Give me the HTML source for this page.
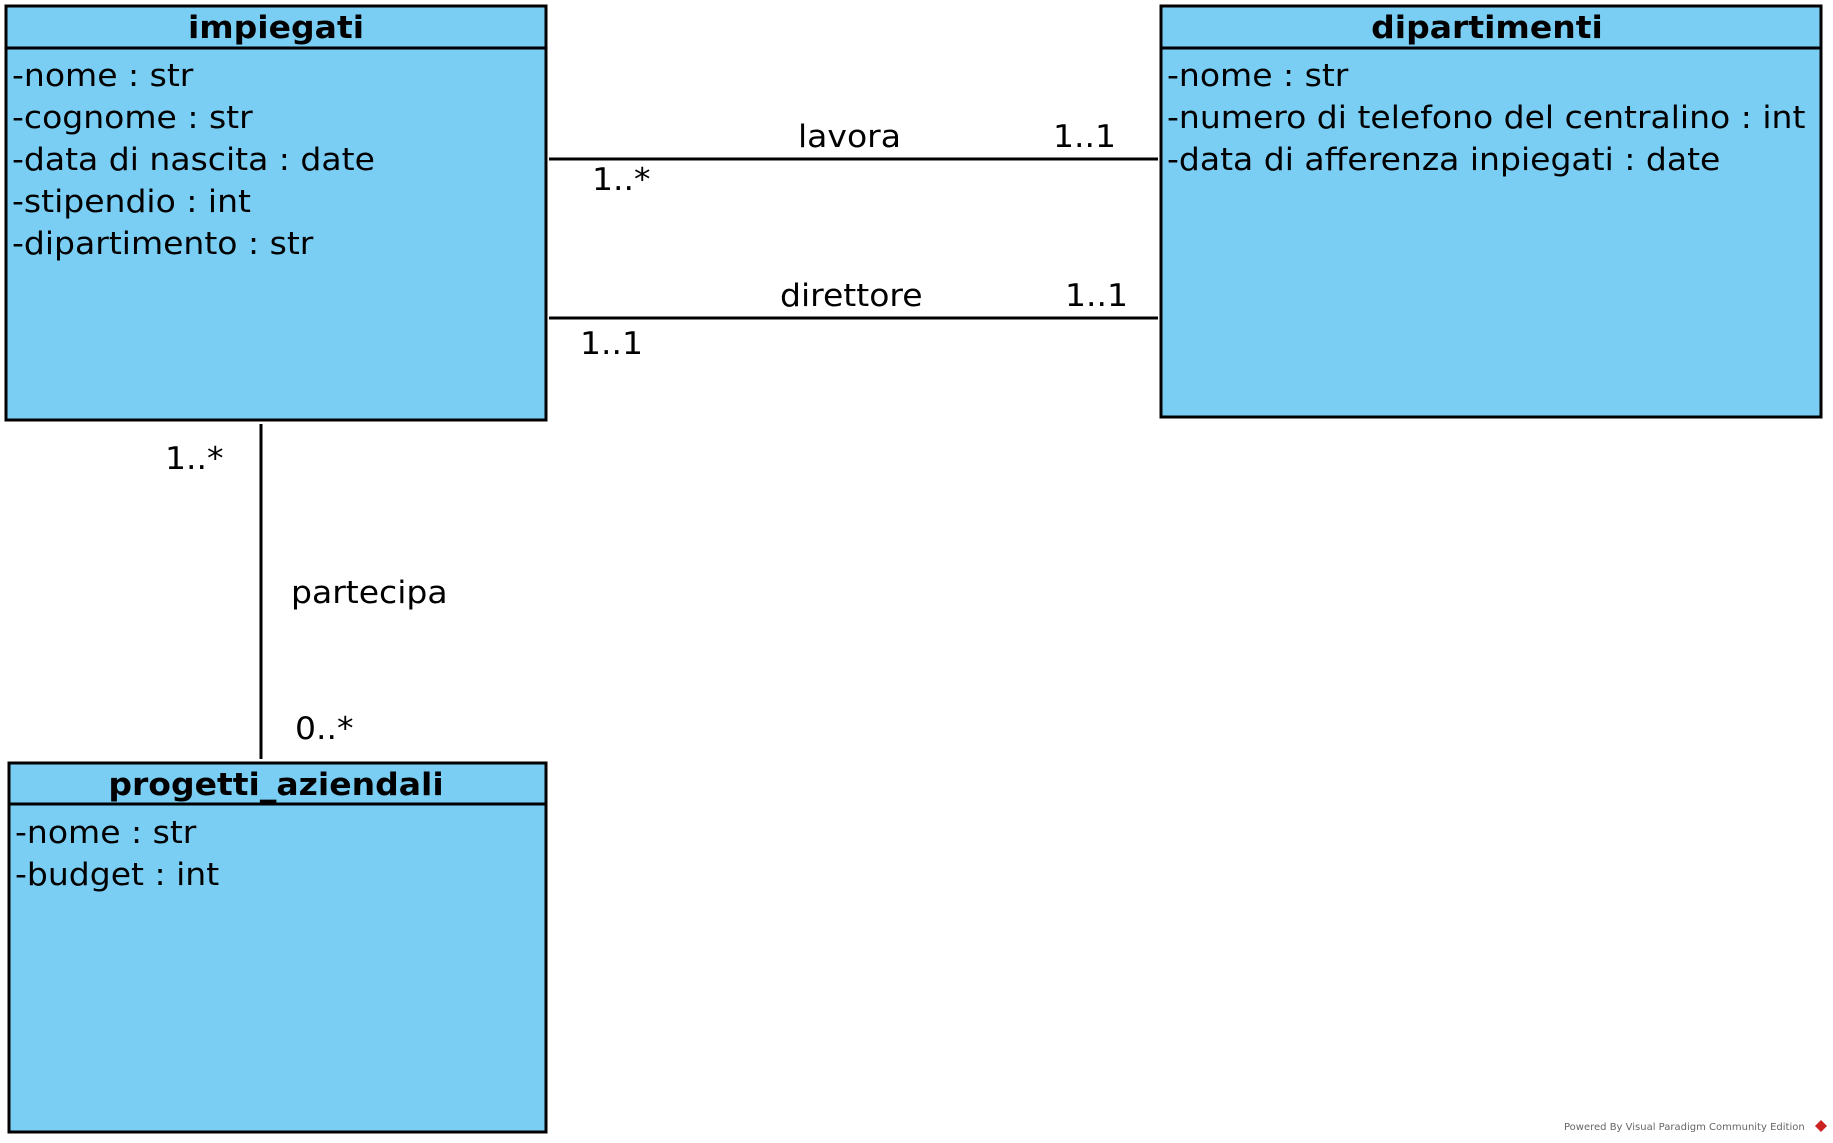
<!DOCTYPE html>
<html><head><meta charset="utf-8"><style>
html,body{margin:0;padding:0;background:#fff;width:1833px;height:1143px;overflow:hidden}
text{font-family:"DejaVu Sans","Liberation Sans",sans-serif;font-size:31px;fill:#000}
.b{font-weight:bold}
</style></head><body>
<svg width="1833" height="1143" viewBox="0 0 1833 1143" xmlns="http://www.w3.org/2000/svg">
<g stroke="#000" stroke-width="3" fill="#7ACEF4">
<rect x="6" y="6" width="540" height="414"/>
<line x1="6" y1="48" x2="546" y2="48"/>
<rect x="1161" y="6" width="660" height="411"/>
<line x1="1161" y1="48" x2="1821" y2="48"/>
<rect x="9" y="763" width="537" height="369"/>
<line x1="9" y1="804" x2="546" y2="804"/>
<line x1="549" y1="159" x2="1158" y2="159"/>
<line x1="549" y1="318" x2="1158" y2="318"/>
<line x1="261" y1="424" x2="261" y2="759"/>
</g>
<text class="b" transform="translate(276,38) scale(1.066,1)" text-anchor="middle">impiegati</text>
<text transform="translate(12,86) scale(1.066,1)">-nome : str</text>
<text transform="translate(12,128) scale(1.066,1)">-cognome : str</text>
<text transform="translate(12,170) scale(1.066,1)">-data di nascita : date</text>
<text transform="translate(12,212) scale(1.066,1)">-stipendio : int</text>
<text transform="translate(12,254) scale(1.066,1)">-dipartimento : str</text>
<text class="b" transform="translate(1487,38) scale(1.066,1)" text-anchor="middle">dipartimenti</text>
<text transform="translate(1167,86) scale(1.066,1)">-nome : str</text>
<text transform="translate(1167,128) scale(1.066,1)">-numero di telefono del centralino : int</text>
<text transform="translate(1167,170) scale(1.066,1)">-data di afferenza inpiegati : date</text>
<text class="b" transform="translate(276,795) scale(1.066,1)" text-anchor="middle">progetti_aziendali</text>
<text transform="translate(15,843) scale(1.066,1)">-nome : str</text>
<text transform="translate(15,885) scale(1.066,1)">-budget : int</text>
<text transform="translate(798,147) scale(1.066,1)">lavora</text>
<text transform="translate(1053,147) scale(1.066,1)">1..1</text>
<text transform="translate(592,190) scale(1.066,1)">1..*</text>
<text transform="translate(780,306) scale(1.066,1)">direttore</text>
<text transform="translate(1065,306) scale(1.066,1)">1..1</text>
<text transform="translate(580,354) scale(1.066,1)">1..1</text>
<text transform="translate(165,469) scale(1.066,1)">1..*</text>
<text transform="translate(291,603) scale(1.066,1)">partecipa</text>
<text transform="translate(295,739) scale(1.066,1)">0..*</text>
<text x="1564" y="1130" style="font-size:10px;fill:#666">Powered By Visual Paradigm Community Edition</text>
<path d="M1821 1120 l6 6 -6 6 -6 -6z" fill="#c22"/>
</svg>
</body></html>
